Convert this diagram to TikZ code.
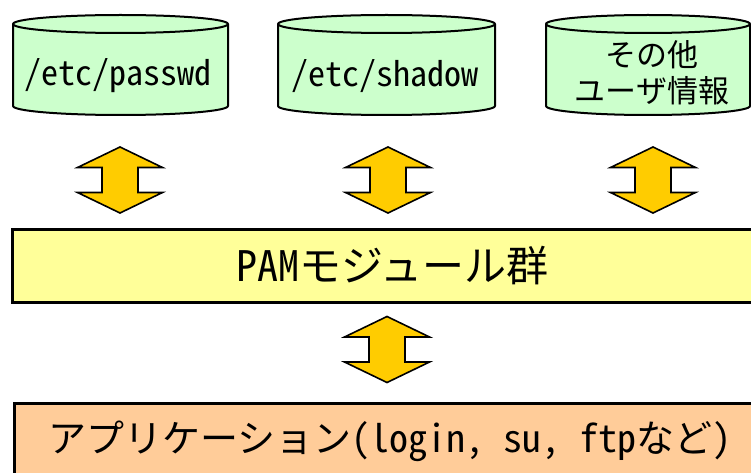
\documentclass[tikz,border=0pt]{standalone}
\usepackage{fontspec}
\newfontfamily\jp{Noto Sans CJK JP}
\newfontfamily\jph[RawFeature=+hwid]{Noto Sans CJK JP}
\definecolor{cylg}{HTML}{CCFFCC}
\definecolor{pamy}{HTML}{FFFF99}
\definecolor{appo}{HTML}{FFCC99}
\definecolor{arrg}{HTML}{FFCC00}
\tikzset{
  cylfill/.style={fill=cylg, draw=black, line width=2pt, line join=round},
  cyltext/.style={inner sep=0pt, align=center},
  dblarrowstyle/.style={fill=arrg, draw=black, line width=1.6pt, line join=miter},
  pambox/.style={draw=black, fill=pamy, line width=2.5pt, anchor=north west,
    minimum width=760pt, minimum height=73pt, inner sep=0pt},
  appbox/.style={draw=black, fill=appo, line width=2.5pt, anchor=north west,
    minimum width=760pt, minimum height=80pt, inner sep=0pt}
}
\newcommand\cylshape[2]{%
  \path[cylfill] (#1,-24) -- (#1,-106)
    arc[start angle=180, end angle=360, x radius={(#2-#1)/2}, y radius=9]
    -- (#2,-24)
    arc[start angle=0, end angle=180, x radius={(#2-#1)/2}, y radius=9] -- cycle;
  \draw[line width=2pt] (#1,-24)
    arc[start angle=180, end angle=360, x radius={(#2-#1)/2}, y radius=9];
}
\newcommand\dblarrowat[1]{%
  \draw[dblarrowstyle, shift={(#1)}] (0,33) -- (42.5,12.5) -- (18,12.5) -- (18,-12.5)
    -- (42.5,-12.5) -- (0,-33) -- (-42.5,-12.5) -- (-18,-12.5) -- (-18,12.5)
    -- (-42.5,12.5) -- cycle;
}
\begin{document}
\begin{tikzpicture}[x=1pt,y=1pt]
\useasboundingbox (0,0) rectangle (751,-473);
\fill[white] (0,0) rectangle (751,-473);
% cylinders
\cylshape{13}{228}
\cylshape{278}{495}
\cylshape{546}{750}
\node[cyltext, font=\jph\fontsize{34}{40}\selectfont] (c1) at (118,-76) {/etc/passwd};
\node[cyltext, font=\jph\fontsize{34}{40}\selectfont] (c2) at (385,-76) {/etc/shadow};
\node[cyltext, font=\jp\fontsize{31}{36}\selectfont] (c3) at (652,-73) {その他\\ユーザ情報};
% arrows
\coordinate (a1) at (120,-180);
\coordinate (a2) at (388,-180);
\coordinate (a3) at (653,-180);
\coordinate (a4) at (387,-349.5);
\dblarrowat{a1}
\dblarrowat{a2}
\dblarrowat{a3}
\dblarrowat{a4}
% boxes
\node[pambox, font=\jp\fontsize{42}{48}\selectfont] (pam) at (11,-228) {{\jph PAM}モジュール群};
\node[appbox, font=\jp\fontsize{38}{44}\selectfont] (app) at (13,-402)
  {アプリケーション{\jph (login, su, ftp}など{\jph )}\hspace{8pt}\rule[-14pt]{0pt}{0pt}};
\end{tikzpicture}
\end{document}
